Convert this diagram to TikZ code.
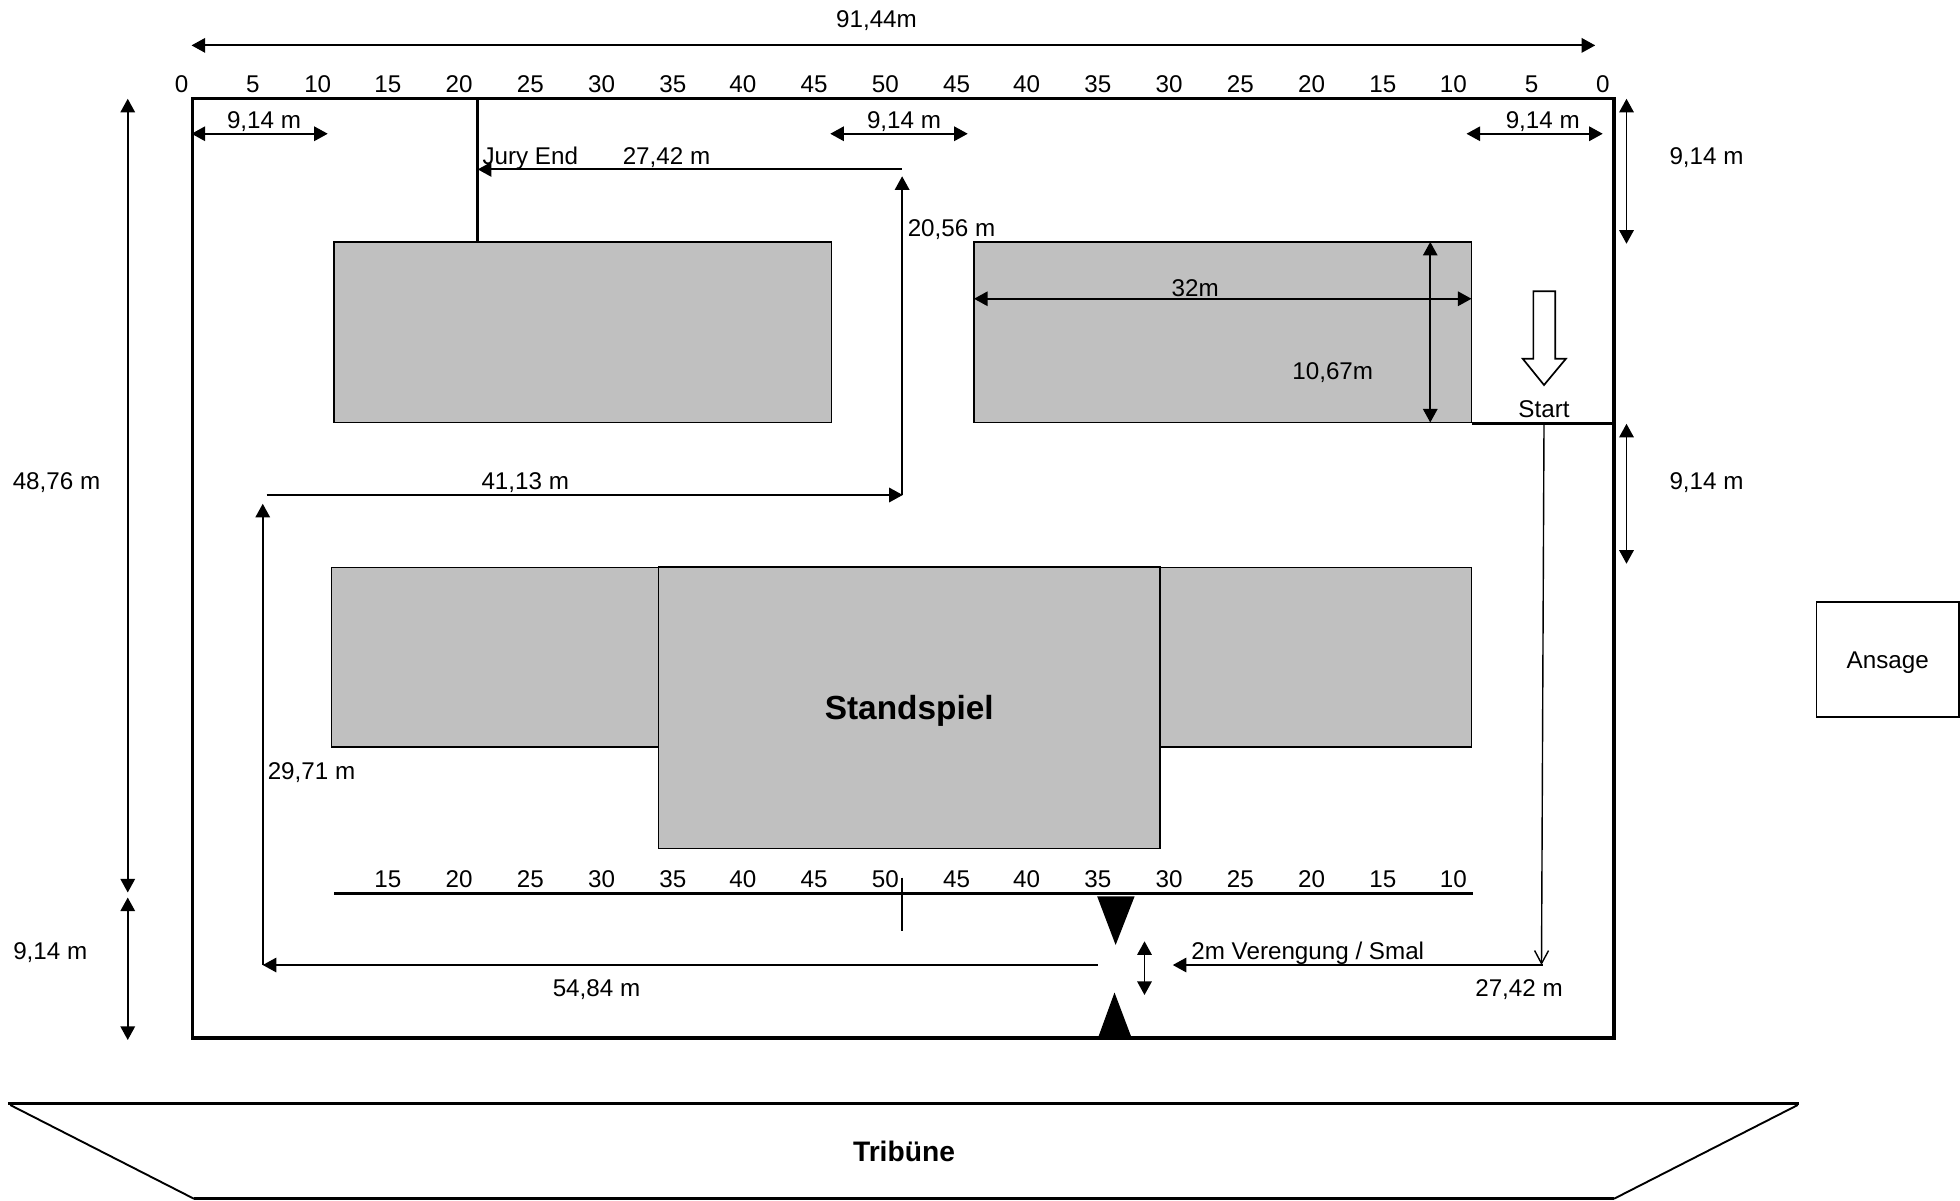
\documentclass[tikz,border=0pt]{standalone}
\usepackage{fontspec}
\setmainfont{Liberation Sans}
\usetikzlibrary{arrows.meta}
\definecolor{boxgray}{HTML}{C0C0C0}
\tikzset{
  lab/.style={inner sep=0pt,outer sep=0pt,text height=8.7pt,text depth=0pt,font=\fontsize{12.1pt}{13pt}\selectfont},
  dim/.style={line width=0.95pt,-{Triangle[length=6.8pt,width=7.2pt]}},
  dimb/.style={line width=0.95pt,{Triangle[length=6.8pt,width=7.2pt]}-{Triangle[length=6.8pt,width=7.2pt]}},
  thickline/.style={line width=1.6pt},
  frameline/.style={line width=1.7pt},
  graybox/.style={fill=boxgray,draw=black,line width=0.85pt},
  solidtri/.style={fill=black,draw=none},
}
\begin{document}
\begin{tikzpicture}[x=0.625pt,y=-0.625pt]
\useasboundingbox (0,0) rectangle (1568,960);
\begin{scope}[shift={(0.2,0)}]
% field
\draw[frameline] (154,79) rectangle (1291,830.5);
% grey areas
\draw[graybox] (267,193.5) rectangle (665,338);
\draw[graybox] (779,193.5) rectangle (1177,338);
\draw[graybox] (265,454) rectangle (667,597.5);
\draw[graybox] (779,454) rectangle (1177,597.5);
\node[graybox,minimum width=401pt*0.625,minimum height=225pt*0.625,inner sep=0pt,outer sep=0pt,anchor=north west,
  text height=12pt,text depth=0pt,font=\fontsize{16.7pt}{18pt}\selectfont\bfseries] (stand) at (526.7,453.8) {Standspiel};
% coordinates
\coordinate (tl) at (153,36.3); \coordinate (tr) at (1276,36.3);
\coordinate (ha) at (102,79); \coordinate (hb) at (102,714);
\coordinate (ia) at (102,718); \coordinate (ib) at (102,832);
\coordinate (a1) at (153,107); \coordinate (a2) at (262,107);
\coordinate (b1) at (664,107); \coordinate (b2) at (774,107);
\coordinate (c1) at (1173,107); \coordinate (c2) at (1282,107);
\coordinate (d1) at (1301,79); \coordinate (d2) at (1301,195);
\coordinate (e1) at (1301,339); \coordinate (e2) at (1301,451);
\coordinate (j1) at (381.5,79); \coordinate (j2) at (381.5,193);
\coordinate (k1) at (721,135.5); \coordinate (k2) at (382,135.5);
\coordinate (m1) at (721.5,396); \coordinate (m2) at (721.5,141);
\coordinate (n1) at (213,396); \coordinate (n2) at (722,396);
\coordinate (p1) at (210,772); \coordinate (p2) at (210,403);
\coordinate (q1) at (878,772);
\coordinate (r1) at (1234,772); \coordinate (r2) at (938,772);
\coordinate (s1) at (1177,339); \coordinate (s2) at (1291,339);
\coordinate (s3) at (1235,339); \coordinate (s4) at (1233,772);
\coordinate (u1) at (779,239); \coordinate (u2) at (1177,239);
\coordinate (v1) at (1144,193.5); \coordinate (v2) at (1144,338);
\coordinate (w1) at (267,714.5); \coordinate (w2) at (1178,714.5);
\coordinate (x1) at (721.5,702); \coordinate (x2) at (721.5,745);
\coordinate (y1) at (915.4,753); \coordinate (y2) at (915.4,796);
% connectors
\draw[dimb] (tl) -- (tr);
\draw[dimb] (ha) -- (hb);
\draw[dimb] (ia) -- (ib);
\draw[dimb] (a1) -- (a2);
\draw[dimb] (b1) -- (b2);
\draw[dimb] (c1) -- (c2);
\draw[dimb] (d1) -- (d2);
\draw[dimb] (e1) -- (e2);
\draw[thickline] (j1) -- (j2);
\draw[dim] (k1) -- (k2);
\draw[dim] (m1) -- (m2);
\draw[dim] (n1) -- (n2);
\draw[dim] (p1) -- (p2);
\draw[dim] (q1) -- (p1);
\draw[dim] (r1) -- (r2);
\draw[thickline] (s1) -- (s2);
\draw[line width=0.7pt,-{Straight Barb[length=6.5pt,width=7pt]}] (s3) -- (s4);
\draw[dimb] (u1) -- (u2);
\draw[dimb] (v1) -- (v2);
\draw[thickline] (w1) -- (w2);
\draw[line width=0.7pt] (x1) -- (x2);
\draw[dimb] (y1) -- (y2);
% hollow arrow
\draw[line width=0.85pt,fill=white] (1226.5,233) -- (1244,233) -- (1244,287) -- (1252.5,287) -- (1235,308) -- (1218,287) -- (1226.5,287) -- cycle;
% bottleneck
\fill[solidtri] (877.5,717) -- (907.5,717) -- (892.3,756) -- cycle;
\fill[solidtri] (878.3,830) -- (905,830) -- (891.4,794) -- cycle;
% ruler labels
\foreach \xx/\nn [count=\i] in {145/0,202/5,254/10,310/15,367/20,424/25,481/30,538/35,594/40,651/45,708/50,765/45,821/40,878/35,935/30,992/25,1049/20,1106/15,1162.5/10,1225/5,1282/0}
  \node[lab,name=top\i] at (\xx,67) {\nn};
\foreach \xx/\nn [count=\i] in {310/15,367/20,424/25,481/30,538/35,594/40,651/45,708/50,765/45,821/40,878/35,935/30,992/25,1049/20,1106/15,1162.5/10}
  \node[lab,name=bot\i] at (\xx,703) {\nn};
% labels
\node[lab] (t1) at (701,15) {91,44m};
\node[lab] (t2) at (45,385) {48,76 m};
\node[lab] (t3) at (40,761) {9,14 m};
\node[lab] (t4) at (211,96) {9,14 m};
\node[lab] (t5) at (723,96) {9,14 m};
\node[lab] (t6) at (1234,96) {9,14 m};
\node[lab] (t7) at (1365,125) {9,14 m};
\node[lab] (t8) at (1365,385) {9,14 m};
\node[lab] (t9) at (424,125) {Jury End};
\node[lab] (t10) at (533,125) {27,42 m};
\node[lab] (t11) at (761,182) {20,56 m};
\node[lab] (t12) at (420,385) {41,13 m};
\node[lab] (t13) at (249,617) {29,71 m};
\node[lab] (t14) at (477,790.5) {54,84 m};
\node[lab] (t15) at (1046,761) {2m Verengung / Smal};
\node[lab] (t16) at (1215,790.5) {27,42 m};
\node[lab] (t17) at (956,230) {32m};
\node[lab] (t18) at (1066,297) {10,67m};
\node[lab] (t19) at (1235,327) {Start};
% announcer
\node[draw=black,line width=0.85pt,minimum width=114pt*0.625,minimum height=92pt*0.625,inner sep=0pt,outer sep=0pt,anchor=north west,
  text height=8.7pt,text depth=0pt,font=\fontsize{12.1pt}{13pt}\selectfont] (ansage) at (1453,481.8) {Ansage};
% stand
\draw[line width=0.95pt] (8,884) -- (155,959);
\draw[line width=0.95pt] (1438,884) -- (1291,959);
\draw[line width=1.7pt] (6,883) -- (1439,883);
\draw[line width=1.5pt] (155,959) -- (1291,959);
\node[inner sep=0pt,text height=10.2pt,text depth=0pt,font=\fontsize{14.1pt}{16pt}\selectfont\bfseries] (trib) at (723,921) {Tribüne};
\end{scope}
\end{tikzpicture}
\end{document}
